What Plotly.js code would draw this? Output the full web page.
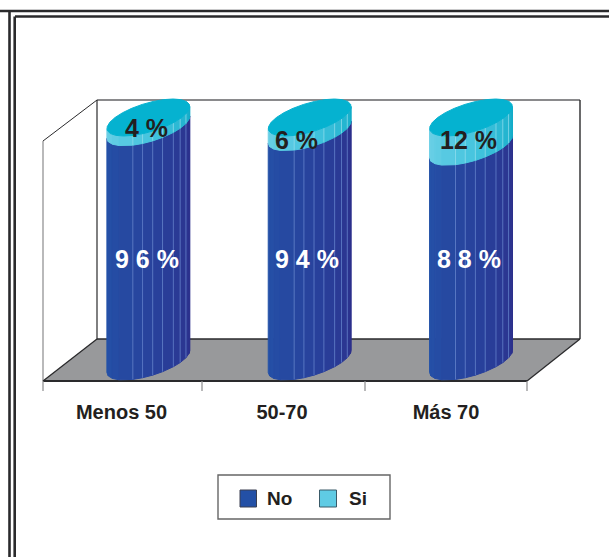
<!DOCTYPE html>
<html><head><meta charset="utf-8">
<script src="https://cdn.plot.ly/plotly-3.0.1.min.js"></script>
<style>html,body{margin:0;padding:0;background:#fff}#c{width:609px;height:557px}</style>
</head><body><div id="c"></div>
<script>
const categories = ["Menos 50", "50-70", "Más 70"];
const seriesNo = [96, 94, 88];
const seriesSi = [4, 6, 12];
const labelNo = ["9 6 %", "9 4 %", "8 8 %"];
const labelSi = ["4 %", "6 %", "12 %"];
const legendNames = ["No", "Si"];

const W = 609, H = 557;
const X0 = 43, XS = 161.33, Y0 = 381, YS = 2.44;
const px2x = p => (p - X0) / XS;
const px2y = p => (Y0 - p) / YS;
const FONT = '"Liberation Sans", Arial, sans-serif';

// oblique projection of a cylinder point: category slot, value, angle
const OFFX = 24.7, OFFY = 19.5, AX = 33.3, VX = 24.7, VY = 18.5;
function proj(i, v, deg) {
  const t = deg * Math.PI / 180;
  const dx = AX * Math.cos(t) + VX * Math.sin(t);
  const dy = VY * Math.sin(t);
  return [i + 0.5 + (OFFX + dx) / XS, v + (OFFY + dy) / YS];
}
const PHI = Math.atan2(VX, AX) * 180 / Math.PI;
// facet edges as angle from the right-hand silhouette, going round the front
const edges = [-180, -165, -150, -135, -112, -98, -84, -70, -53, -40, -25, -10, 0];
const brightFrom = 4;
const lerp = (a, b, f) => a.map((c, k) => Math.round(c + (b[k] - c) * f));
const rgb = c => `rgb(${c[0]},${c[1]},${c[2]})`;

const traces = [];
function poly(xs, ys, color) {
  traces.push({x: xs, y: ys, type: 'scatter', mode: 'lines', fill: 'toself', fillcolor: color,
    line: {width: 1, color: color}, hoverinfo: 'skip', showlegend: false});
}
function edgeLine(a, b, color) {
  traces.push({x: [a[0], b[0]], y: [a[1], b[1]], type: 'scatter', mode: 'lines',
    line: {width: 0.8, color: color}, hoverinfo: 'skip', showlegend: false});
}
function band(i, v0, v1, c0, c1, cm, lineCol) {
  for (let k = 0; k < edges.length - 1; k++) {
    const a = edges[k] + PHI, b = edges[k + 1] + PHI;
    const f = k / (edges.length - 2);
    const col = f < 0.5 ? lerp(c0, cm, f * 2) : lerp(cm, c1, (f - 0.5) * 2);
    const p = [proj(i, v0, a), proj(i, v0, b), proj(i, v1, b), proj(i, v1, a)];
    poly(p.map(q => q[0]).concat(p[0][0]), p.map(q => q[1]).concat(p[0][1]), rgb(col));
  }
  for (let k = brightFrom; k < edges.length - 2; k++) {
    const a = edges[k] + PHI;
    edgeLine(proj(i, v0, a), proj(i, v1, a), lineCol);
  }
}
categories.forEach((c, i) => {
  const top = seriesNo[i] + seriesSi[i];
  band(i, 0, seriesNo[i], [36, 82, 168], [44, 48, 140], [40, 66, 156], '#6584cc');
  band(i, seriesNo[i], top, [110, 208, 230], [18, 172, 200], [68, 196, 222], '#8fdcec');
  const xs = [], ys = [];
  for (let d = 0; d <= 360; d += 15) { const q = proj(i, top, d); xs.push(q[0]); ys.push(q[1]); }
  poly(xs, ys, '#05b2d0');
});

const rectPx = (x0, y0, x1, y1, fill, line, lw) => ({type: 'rect', xref: 'x', yref: 'y', layer: 'below',
  x0: px2x(x0), x1: px2x(x1), y0: px2y(y0), y1: px2y(y1), fillcolor: fill,
  line: {color: line || 'rgba(0,0,0,0)', width: lw || 0}});
const linePx = (x0, y0, x1, y1, color, lw) => ({type: 'line', xref: 'x', yref: 'y', layer: 'below',
  x0: px2x(x0), x1: px2x(x1), y0: px2y(y0), y1: px2y(y1), line: {color: color, width: lw}});
const polyPx = (pts, fill) => ({type: 'path', xref: 'x', yref: 'y', layer: 'below', fillcolor: fill, line: {width: 0},
  path: 'M' + pts.map(p => px2x(p[0]) + ',' + px2y(p[1])).join('L') + 'Z'});

const DK = '#2a2a2c', GR = '#8a8a8c';
const shapes = [
  // outer double frame
  linePx(0, 11, W, 11, DK, 2.6), linePx(9.5, 11, 9.5, H, DK, 2.6),
  linePx(15, 16.5, W, 16.5, DK, 2.4), linePx(14.7, 16.5, 14.7, H, DK, 2.6),
  // floor and walls
  polyPx([[43, 381], [527, 381], [580, 339], [97, 339]], '#98999b'),
  linePx(97, 100, 580, 100, GR, 2), linePx(580, 100, 580, 339, DK, 1.4),
  linePx(97, 100, 97, 339, DK, 1.2), linePx(97, 339, 580, 339, DK, 1.4),
  linePx(43, 141, 97, 100, DK, 1), linePx(43, 141, 43, 381, GR, 1.2),
  linePx(97, 339, 43, 381, DK, 1.3), linePx(580, 339, 527, 381, DK, 1.3),
  linePx(43, 381, 527, 381, DK, 2),
  // tick marks on category boundaries
  ...[43, 202, 365, 527].map(p => linePx(p, 381, p, 391, GR, 1.2)),
  // legend
  rectPx(218, 475, 390, 519, '#fff', '#666', 1.4),
  rectPx(240, 490, 256.5, 507, '#2350a6', '#3a3f50', 1),
  rectPx(319.5, 490, 336.5, 507, '#5fcbe4', '#3a5a68', 1)
];

const noX = [147, 307, 469], noY = [259, 259, 259];
const siX = [146, 296, 468], siY = [128, 140, 140];
const ann = (text, x, y, size, color) => ({text: '<b>' + text + '</b>', x: px2x(x), y: px2y(y), xref: 'x', yref: 'y',
  showarrow: false, xanchor: 'center', yanchor: 'middle', font: {family: FONT, size: size, color: color}});
const annotations = [];
categories.forEach((c, i) => {
  annotations.push(ann(labelNo[i], noX[i], noY[i], 25, '#ffffff'));
  annotations.push(ann(labelSi[i], siX[i], siY[i], 25, '#231f20'));
});
annotations.push(ann(legendNames[0], 279, 498.5, 19, '#231f20'));
annotations.push(ann(legendNames[1], 358, 498.5, 19, '#231f20'));

const layout = {
  width: W, height: H, margin: {l: 0, r: 0, t: 0, b: 0},
  paper_bgcolor: '#fff', plot_bgcolor: '#fff', showlegend: false,
  xaxis: {range: [px2x(0), px2x(W)], showgrid: false, zeroline: false, showline: false,
    anchor: 'free', position: (H - Y0) / H, side: 'bottom',
    tickmode: 'array', tickvals: [px2x(121.5), px2x(282), px2x(446)], ticktext: categories.map(c => '<b>' + c + '</b>'),
    ticks: 'outside', ticklen: 13, tickcolor: 'rgba(0,0,0,0)', tickangle: 0,
    tickfont: {family: FONT, size: 20, color: '#231f20'}},
  yaxis: {range: [px2y(H), px2y(0)], visible: false, showgrid: false, zeroline: false},
  shapes, annotations
};
Plotly.newPlot('c', traces, layout, {displayModeBar: false, staticPlot: true});
</script></body></html>
